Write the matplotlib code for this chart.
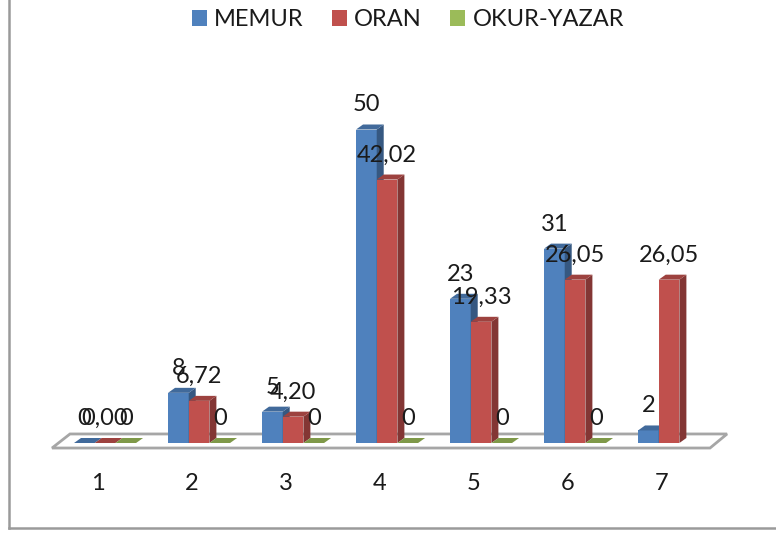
import numpy as np
import matplotlib.pyplot as plt
from matplotlib.patches import Polygon, Patch
from matplotlib.lines import Line2D
from matplotlib.colors import to_rgb

plt.rcParams['font.family'] = ['Lato', 'DejaVu Sans']

# data
categories = ['1', '2', '3', '4', '5', '6', '7']
series = ['MEMUR', 'ORAN', 'OKUR-YAZAR']
memur = [0, 8, 5, 50, 23, 31, 2]
oran = [0.00, 6.72, 4.20, 42.02, 19.33, 26.05, 26.05]
okur_yazar = [0, 0, 0, 0, 0, 0, np.nan]

colors = ['#4F81BD', '#C0504D', '#9BBB59']
values = [memur, oran, okur_yazar]
fmt = [lambda v: f'{v:.0f}', lambda v: f'{v:.2f}'.replace('.', ','), lambda v: f'{v:.0f}']


def shade(c, f):
    r, g, b = to_rgb(c)
    return (r * f, g * f, b * f)


# pixel scale of the picture (94 px per category, 6.27 px per unit)
sx, sy = 94.0, 6.27
x0, y0 = 98.0, 443.0
W, H = 776, 534

fig = plt.figure(figsize=(W / 100, H / 100), dpi=100)
ax = fig.add_axes([0, 0, 1, 1])
ax.set_xlim(1 - x0 / sx, 1 + (W - x0) / sx)
ax.set_ylim(-(H - y0) / sy, y0 / sy)
ax.axis('off')

dx, dy = 7 / sx, 5 / sy          # 3d depth of bars
w = 0.22                          # bar width
offs = [-0.255, -0.035, 0.185]

# floor
floor = Polygon([(0.511, -0.8), (7.511, -0.8), (7.692, 1.44), (0.702, 1.44)],
                closed=True, facecolor='white', edgecolor='#A6A6A6', lw=2, zorder=1)
ax.add_patch(floor)

xs = np.arange(1, len(categories) + 1)
for i, x in enumerate(xs):
    for s in range(3):
        h = values[s][i]
        if np.isnan(h):
            continue
        l = x + offs[s]
        c = colors[s]
        ax.bar(l, h, width=w, align='edge', color=c, lw=0, zorder=2)
        side = [(l + w, 0), (l + w + dx, dy), (l + w + dx, h + dy), (l + w, h)]
        top = [(l, h), (l + w, h), (l + w + dx, h + dy), (l + dx, h + dy)]
        ax.add_patch(Polygon(side, closed=True, facecolor=shade(c, 0.68), lw=0, zorder=2))
        ax.add_patch(Polygon(top, closed=True, facecolor=shade(c, 0.82), lw=0, zorder=2))

# data labels
for i, x in enumerate(xs):
    for s in range(3):
        h = values[s][i]
        if np.isnan(h):
            continue
        ax.annotate(fmt[s](h), (x + offs[s] + w / 2, h), xytext=(0, 13),
                    textcoords='offset points', ha='center', va='baseline',
                    fontsize=17, color='#1a1a1a', zorder=5)

# category labels
for x, lab in zip(xs, categories):
    ax.text(x, -(483 - y0) / sy, lab, ha='center', va='center', fontsize=17, color='#1a1a1a')

# legend
handles = [Patch(facecolor=c, edgecolor='none') for c in colors]
ax.legend(handles, series, loc='center', bbox_to_anchor=(408 / W, 1 - 19.5 / H),
          bbox_transform=fig.transFigure, ncol=3, frameon=False, fontsize=17,
          handlelength=0.64, handleheight=0.64, handletextpad=0.3, columnspacing=1.2,
          labelcolor='#1a1a1a')

# chart border (left and bottom visible)
fig.add_artist(Line2D([9 / W, 9 / W], [1 - 528 / H, 1], color='#9A9A9A', lw=1.8))
fig.add_artist(Line2D([9 / W, 1], [1 - 528 / H, 1 - 528 / H], color='#9A9A9A', lw=1.8))

fig.savefig('out.png', dpi=100)
